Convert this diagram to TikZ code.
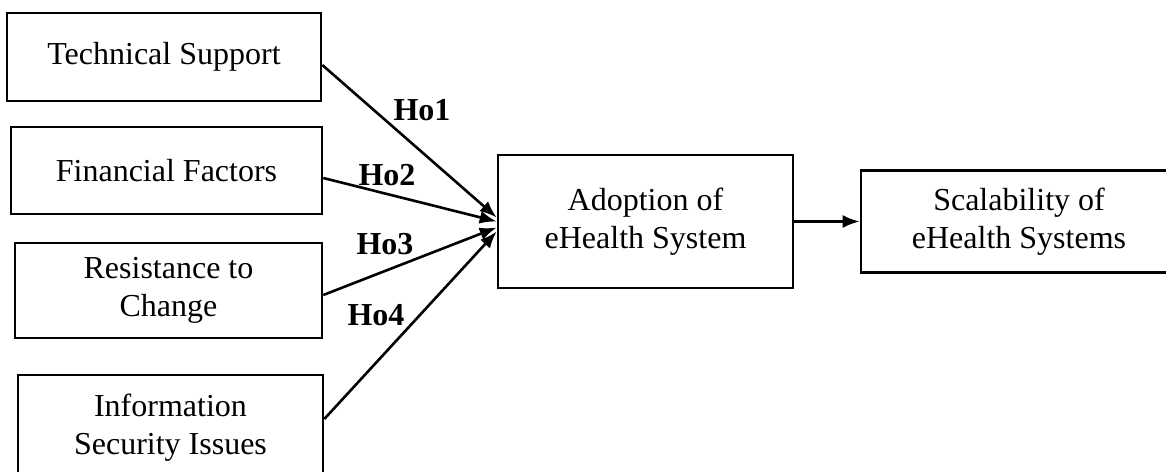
\documentclass[tikz,border=0pt]{standalone}
\usepackage{fontspec}
\setmainfont{Liberation Serif}
\usetikzlibrary{arrows.meta}
\tikzset{
	factor/.style={draw, line width=2.6pt, align=center, inner sep=0pt,
		font=\fontsize{32}{38}\selectfont},
	hyp/.style={font=\fontsize{32}{36}\selectfont\bfseries, inner sep=0pt},
	link/.style={->, line width=2.6pt}
}
\begin{document}
\begin{tikzpicture} [x=1pt, y=-1pt, >={Latex[length=17pt,width=13pt]}]
	\useasboundingbox (0,0) rectangle (1166,471);
	\clip (0,0) rectangle (1166,471);
	\node [factor, minimum width=314pt, minimum height=88pt] (tech) at (164,57) {Technical Support};
	\node [factor, minimum width=311pt, minimum height=87pt] (fin) at (166.5,170.5) {Financial Factors};
	\node [factor, minimum width=307pt, minimum height=95pt] (resist) at (168.5,290.5) {Resistance to\\Change};
	\node [factor, minimum width=305pt, minimum height=106pt] (secur) at (170.5,428) {Information\\Security Issues};
	\node [factor, minimum width=295pt, minimum height=133pt] (adopt) at (645.5,221.5) {Adoption of\\eHealth System};
	\node [factor, minimum width=316pt, minimum height=102pt] (scal) at (1019,221.5) {Scalability of\\eHealth Systems};
	\draw [link] ([yshift=-8pt]tech.east) -- ([yshift=4pt]adopt.west);
	\draw [link] ([yshift=-7.5pt]fin.east) -- (adopt.west);
	\draw [link] ([yshift=-4.5pt]resist.east) -- ([yshift=-6pt]adopt.west);
	\draw [link] ([yshift=9pt]secur.east) -- ([yshift=-10pt]adopt.west);
	\draw [link] (adopt.east) -- (scal.west);
	\node [hyp] (h1) at (422,110) {Ho1};
	\node [hyp] (h2) at (387,175) {Ho2};
	\node [hyp] (h3) at (385,244) {Ho3};
	\node [hyp] (h4) at (376,315) {Ho4};
\end{tikzpicture}
\end{document}
